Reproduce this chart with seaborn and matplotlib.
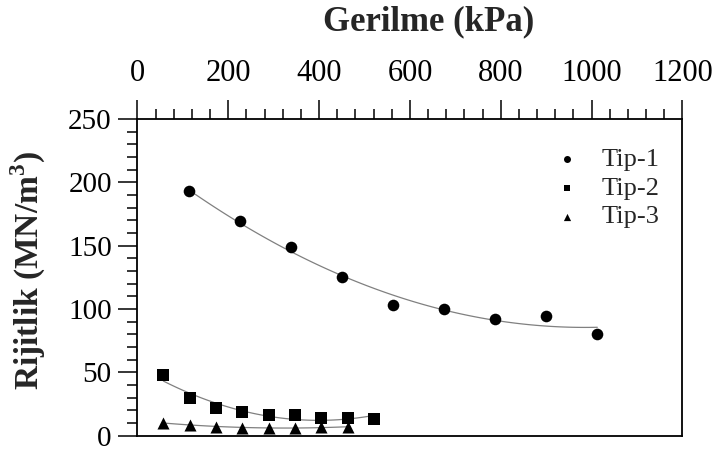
import numpy as np
import pandas as pd
import matplotlib
matplotlib.use("Agg")
import matplotlib.pyplot as plt
import seaborn as sns
from matplotlib.ticker import MultipleLocator

sns.set_theme(style="white")
plt.rcParams['font.family'] = ['Liberation Serif', 'DejaVu Serif']
plt.rcParams['mathtext.fontset'] = 'custom'
plt.rcParams['mathtext.rm'] = 'Liberation Serif'
plt.rcParams['mathtext.bf'] = 'Liberation Serif:bold'

# Data (stress kPa, stiffness MN/m3)
tip1_x = [112.5, 225, 337.5, 450, 562.5, 675, 787.5, 900, 1012.5]
tip1_y = [193, 169.5, 149, 125.5, 103.4, 100, 92.3, 94.5, 80.3]
tip2_x = [57, 115, 173, 231, 289, 347, 405, 463, 521]
tip2_y = [48, 29.5, 22, 18.5, 16, 16, 14.2, 14.2, 13.2]
tip3_x = [57, 115, 173, 231, 289, 347, 405, 463]
tip3_y = [10.3, 8.3, 7.1, 6.4, 6.2, 6.4, 6.6, 6.8]
labels = ["Tip-1", "Tip-2", "Tip-3"]
markers = ["o", "s", "^"]

fig = plt.figure(figsize=(7.19, 4.51), dpi=100)
ax = fig.add_axes([0.1912, 0.0339, 0.7580, 0.7022])

for xs, ys, lab, mk in zip([tip1_x, tip2_x, tip3_x], [tip1_y, tip2_y, tip3_y], labels, markers):
    df = pd.DataFrame({"x": xs, "y": ys})
    sns.regplot(data=df, x="x", y="y", order=2, ci=None, ax=ax, marker=mk,
                label=lab, truncate=True,
                scatter_kws=dict(color="black", s=75 if mk == "^" else 70, linewidths=0,
                                 alpha=1, zorder=3),
                line_kws=dict(color="#808080", lw=0.9, zorder=2))

ax.set_xlim(0, 1200)
ax.set_ylim(0, 250)
ax.xaxis.set_major_locator(MultipleLocator(200))
ax.xaxis.set_minor_locator(MultipleLocator(40))
ax.yaxis.set_major_locator(MultipleLocator(50))
ax.yaxis.set_minor_locator(MultipleLocator(10))
ax.xaxis.tick_top()
ax.tick_params(axis="x", which="both", top=True, bottom=False, labeltop=True, labelbottom=False,
               direction="out", colors="black", labelsize=22, pad=9)
ax.tick_params(axis="y", which="both", left=True, right=False, direction="out",
               colors="black", labelsize=21, pad=5)
ax.tick_params(which="major", length=13.5, width=1.1)
ax.tick_params(which="minor", length=7.5, width=1.1)
for s in ax.spines.values():
    s.set_color("black")
    s.set_linewidth(1.3)
ax.set_xlabel("")
ax.set_ylabel("Rijitlik (MN/m$^\\mathbf{3}$)", fontsize=24, fontweight="bold")
ax.yaxis.set_label_coords(-0.165, 0.52)
ax.text(0.534, 1.306, "Gerilme (kPa)", transform=ax.transAxes, ha="center", va="center",
        fontsize=25, fontweight="bold")

ax.legend(loc="upper left", bbox_to_anchor=(0.72, 0.985), frameon=False, fontsize=19,
          markerscale=0.6, handletextpad=0.8, labelspacing=0.2, handlelength=1.0)

fig.savefig("out.png", dpi=100)
